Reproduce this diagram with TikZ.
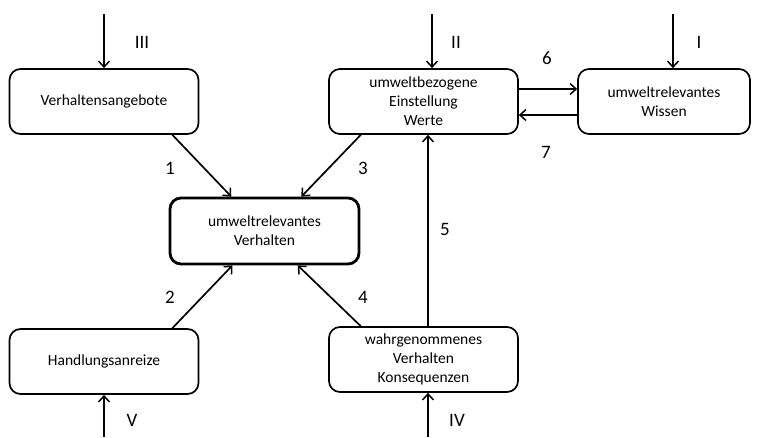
\documentclass[tikz,border=0pt]{standalone}
\usepackage{fontspec}
\setmainfont{Carlito}
\usetikzlibrary{arrows.meta}

\begin{document}
\begin{tikzpicture}[x=1pt, y=-1pt,
    box/.style={draw, line width=1.7pt, rounded corners=11pt, align=center,
                minimum width=189pt, minimum height=65pt, inner sep=2pt,
                font=\fontsize{15.5}{19}\selectfont},
    pfeil/.style={line width=1.7pt, -{Straight Barb[length=6pt,width=11pt,line width=1.5pt]}},
    nr/.style={font=\fontsize{19}{21}\selectfont}]
  % Rahmen
  \useasboundingbox (0,0) rectangle (760,437);
  % Kaesten
  \node[box] (angebote) at (104,101.5) {Verhaltensangebote};
  \node[box] (einstellung) at (423.5,101.5) {umweltbezogene\\Einstellung\\Werte};
  \node[box, minimum width=172pt] (wissen) at (664,101.5) {umweltrelevantes\\Wissen};
  \node[box, line width=2.8pt, minimum height=66pt] (verhalten) at (264.5,231) {umweltrelevantes\\Verhalten};
  \node[box] (anreize) at (104,361.5) {Handlungsanreize};
  \node[box] (wahrg) at (423.5,359.5) {wahrgenommenes\\Verhalten\\Konsequenzen};
  % Eingaenge von aussen
  \coordinate (inIII) at (104,14);
  \coordinate (inII) at (432,14);
  \coordinate (inI) at (673,14);
  \coordinate (inV) at (104,437);
  \coordinate (inIV) at (428,437);
  \draw[pfeil] (inIII) -- (inIII |- angebote.north);
  \draw[pfeil] (inII) -- (inII |- einstellung.north);
  \draw[pfeil] (inI) -- (inI |- wissen.north);
  \draw[pfeil] (inV) -- (inV |- anreize.south);
  \draw[pfeil] (inIV) -- (inIV |- wahrg.south);
  \node[nr] (lIII) at (142,42) {III};
  \node[nr] (lII) at (456,42) {II};
  \node[nr] (lI) at (699,42) {I};
  \node[nr] (lV) at (132,420) {V};
  \node[nr] (lIV) at (457,420) {IV};
  % Wirkungen
  \draw[pfeil] (angebote.-26) -- (verhalten.134);
  \draw[pfeil] (einstellung.208) -- (verhalten.43);
  \draw[pfeil] (anreize.26) -- (verhalten.-133);
  \draw[pfeil] (wahrg.152) -- (verhalten.-46);
  \draw[pfeil] ([xshift=4.5pt]wahrg.north) -- ([xshift=4.5pt]einstellung.south);
  \draw[pfeil] ([yshift=12.5pt]einstellung.east) -- ([yshift=12.5pt]wissen.west);
  \draw[pfeil] ([yshift=-13.5pt]wissen.west) -- ([yshift=-13.5pt]einstellung.east);
  \node[nr] (l1) at (170,168) {1};
  \node[nr] (l2) at (170,297) {2};
  \node[nr] (l3) at (363,168) {3};
  \node[nr] (l4) at (363,297) {4};
  \node[nr] (l5) at (445,229) {5};
  \node[nr] (l6) at (547,58) {6};
  \node[nr] (l7) at (546,152) {7};
\end{tikzpicture}
\end{document}
